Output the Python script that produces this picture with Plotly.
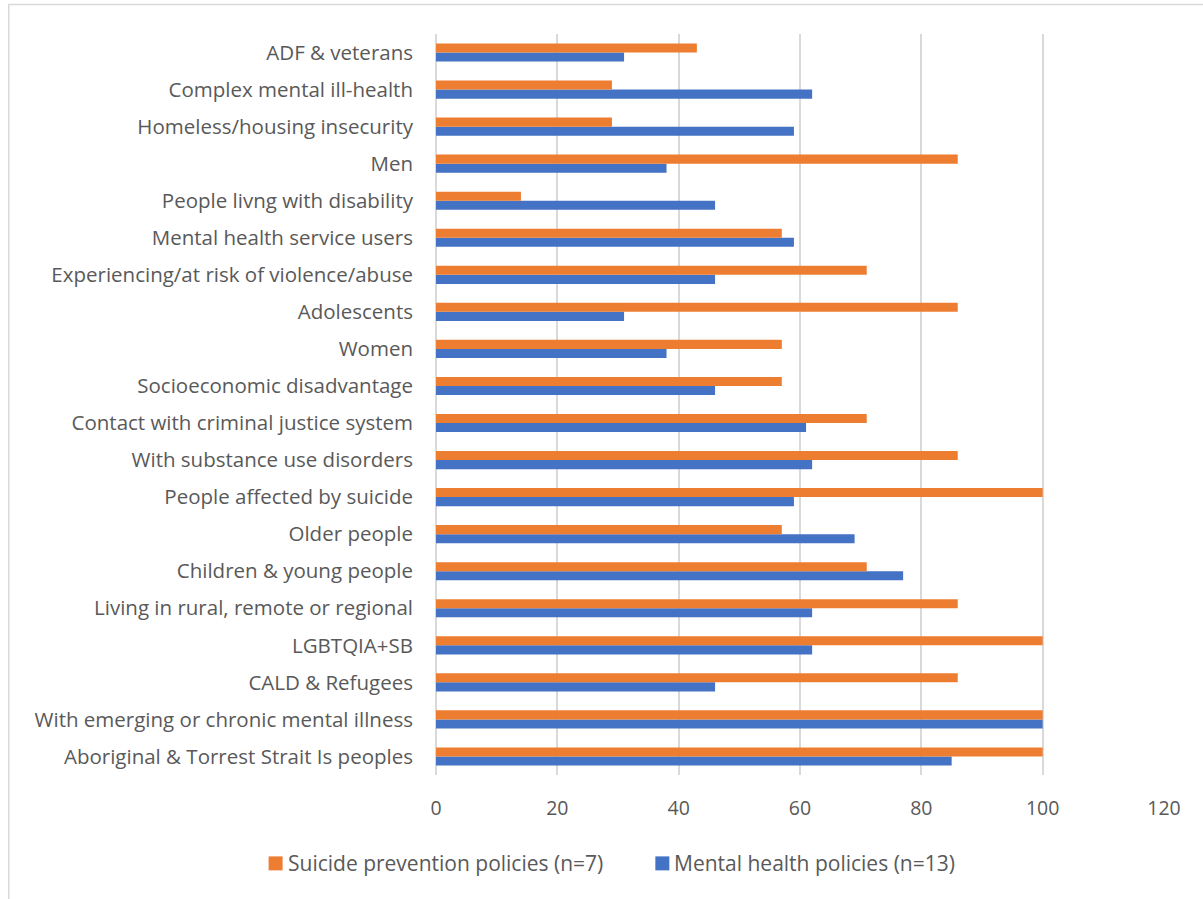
import plotly.graph_objects as go

# Population groups, listed bottom to top as drawn on the category axis
groups = [
    "Aboriginal & Torrest Strait Is peoples",
    "With emerging or chronic mental illness",
    "CALD & Refugees",
    "LGBTQIA+SB",
    "Living in rural, remote or regional",
    "Children & young people",
    "Older people",
    "People affected by suicide",
    "With substance use disorders",
    "Contact with criminal justice system",
    "Socioeconomic disadvantage",
    "Women",
    "Adolescents",
    "Experiencing/at risk of violence/abuse",
    "Mental health service users",
    "People livng with disability",
    "Men",
    "Homeless/housing insecurity",
    "Complex mental ill-health",
    "ADF & veterans",
]

# Percentage of policies mentioning each group
mental_health = [85, 100, 46, 62, 62, 77, 69, 59, 62, 61,
                 46, 38, 31, 46, 59, 46, 38, 59, 62, 31]
suicide_prevention = [100, 100, 86, 100, 86, 71, 57, 100, 86, 71,
                      57, 57, 86, 71, 57, 14, 86, 29, 29, 43]

x_ticks = [0, 20, 40, 60, 80, 100, 120]

series_names = ["Suicide prevention policies (n=7)", "Mental health policies (n=13)"]

ORANGE = "#ED7D31"
BLUE = "#4472C4"
TEXT = "#595959"
GRID = "#D9D9D9"
FONT = "Open Sans"

# Plot-area geometry in pixels (used to place the legend key below the axis)
W, H = 1203, 899
L, R, T, B = 435.5, 39, 33.5, 123.5
PW, PH = W - L - R, H - T - B


def px(x):
    return (x - L) / PW


def py(y):
    return (H - B - y) / PH


fig = go.Figure()
fig.add_trace(go.Bar(
    y=groups, x=mental_health, orientation="h",
    name=series_names[1], marker=dict(color=BLUE, line=dict(width=0)),
))
fig.add_trace(go.Bar(
    y=groups, x=suicide_prevention, orientation="h",
    name=series_names[0], marker=dict(color=ORANGE, line=dict(width=0)),
))

# Legend key: coloured square followed by series name
legend_items = [(268, ORANGE, series_names[0]), (655, BLUE, series_names[1])]
shapes = [dict(
    type="rect", xref="paper", yref="paper",
    x0=px(8), x1=1.2, y0=-0.5, y1=py(4),
    line=dict(color=GRID, width=1.5), fillcolor="rgba(0,0,0,0)", layer="below",
)]
annotations = []
for x0, color, name in legend_items:
    shapes.append(dict(
        type="rect", xref="paper", yref="paper",
        x0=px(x0), x1=px(x0 + 14), y0=py(871), y1=py(857),
        line=dict(width=0), fillcolor=color,
    ))
    annotations.append(dict(
        xref="paper", yref="paper", x=px(x0 + 17), y=py(864),
        xanchor="left", yanchor="middle", showarrow=False, text=name,
        font=dict(family=FONT, size=21, color=TEXT),
    ))

fig.update_layout(
    width=W, height=H,
    paper_bgcolor="white", plot_bgcolor="white",
    barmode="group", bargap=0.51, bargroupgap=0,
    margin=dict(l=L, r=R, t=T, b=B, autoexpand=False),
    font=dict(family=FONT, color=TEXT),
    showlegend=False,
    xaxis=dict(
        range=[0, 120], tickvals=x_ticks, ticktext=[str(v) for v in x_ticks],
        showgrid=True, gridcolor=GRID, gridwidth=1.5,
        zeroline=True, zerolinecolor=GRID, zerolinewidth=1.5,
        showline=False, ticks="",
        tickfont=dict(family=FONT, size=19.5, color=TEXT),
        ticklabelstandoff=19, fixedrange=True,
    ),
    yaxis=dict(
        categoryorder="array", categoryarray=groups,
        showgrid=False, zeroline=False, showline=False, ticks="",
        tickfont=dict(family=FONT, size=20.5, color=TEXT),
        ticklabelstandoff=22, fixedrange=True,
    ),
    shapes=shapes,
    annotations=annotations,
)

fig.write_html("out.html")
